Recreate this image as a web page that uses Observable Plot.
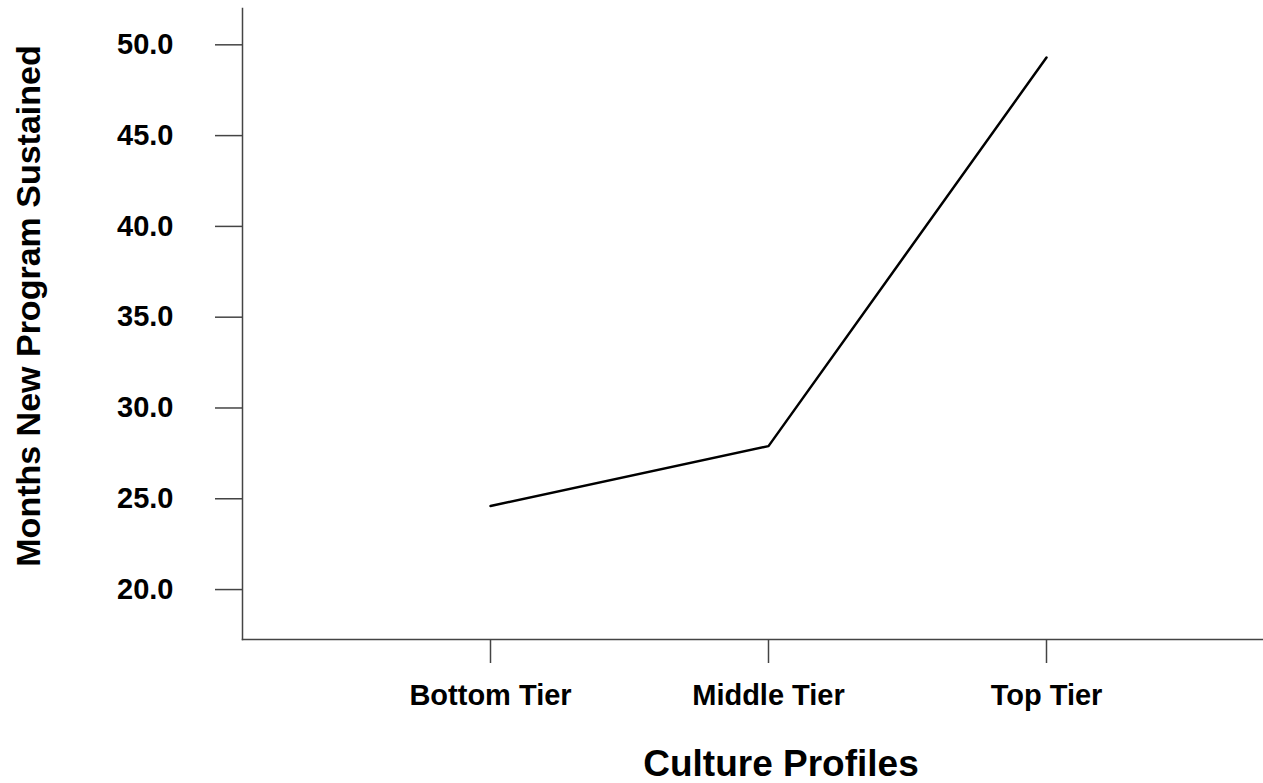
<!DOCTYPE html>
<html>
<head>
<meta charset="utf-8">
<script src="https://cdn.jsdelivr.net/npm/d3@7"></script>
<script src="https://cdn.jsdelivr.net/npm/@observablehq/plot@0.6"></script>
<style>
  html, body { margin: 0; padding: 0; background: white; }
</style>
</head>
<body>
<div id="chart"></div>
<script>
const tiers = ["Bottom Tier", "Middle Tier", "Top Tier"];
const months = [24.6, 27.9, 49.3];
const yTicks = [20, 25, 30, 35, 40, 45, 50];
const yTitle = "Months New Program Sustained";
const xTitle = "Culture Profiles";

const data = tiers.map((t, i) => ({tier: t, months: months[i]}));

const axisColor = "#444";

const chart = Plot.plot({
  width: 1263,
  height: 783,
  marginLeft: 242,
  marginTop: 8,
  marginRight: 0,
  marginBottom: 144,
  style: {
    fontFamily: "'Liberation Sans', Arial, sans-serif",
    fontWeight: "bold",
    fontSize: "29px",
    color: "black",
    background: "white"
  },
  x: {type: "point", domain: tiers, padding: 0.833, align: 0.534},
  y: {domain: [17.25, 52]},
  marks: [
    Plot.frame({anchor: "left", stroke: axisColor, strokeWidth: 1.5}),
    Plot.frame({anchor: "bottom", stroke: axisColor, strokeWidth: 1.5}),
    Plot.axisY({
      ticks: yTicks,
      tickFormat: d3.format(".1f"),
      tickSize: 27,
      tickPadding: 42,
      stroke: axisColor,
      strokeWidth: 1.5,
      fill: "black",
      label: yTitle,
      labelAnchor: "center",
      labelArrow: false,
      labelOffset: 227
    }),
    Plot.axisX({
      tickSize: 24,
      tickPadding: 21,
      stroke: axisColor,
      strokeWidth: 1.5,
      fill: "black",
      label: xTitle,
      labelAnchor: "center",
      labelArrow: false,
      labelOffset: 136
    }),
    Plot.line(data, {x: "tier", y: "months", stroke: "black", strokeWidth: 2.5})
  ]
});

const yl = chart.querySelector('g[aria-label="y-axis label"]');
if (yl) {
  yl.style.fontSize = "34px";
  const t = yl.getAttribute("transform") || "";
  yl.setAttribute("transform", "translate(0,-18) " + t);
}
const xl = chart.querySelector('g[aria-label="x-axis label"]');
if (xl) {
  xl.style.fontSize = "37px";
  const t = xl.getAttribute("transform") || "";
  xl.setAttribute("transform", "translate(28,0) " + t);
}

document.getElementById("chart").appendChild(chart);
</script>
</body>
</html>
